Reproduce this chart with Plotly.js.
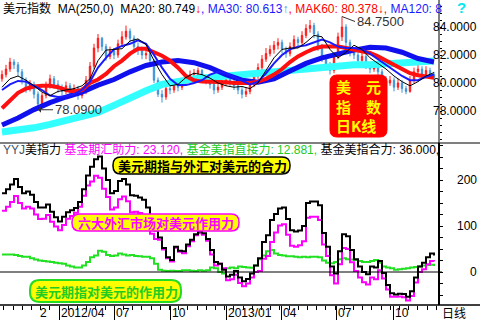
<!DOCTYPE html>
<html><head><meta charset="utf-8">
<script src="https://cdn.plot.ly/plotly-3.0.1.min.js"></script>
<style>html,body{margin:0;padding:0;background:#fff;}#chart{width:480px;height:320px;}</style>
</head><body><div id="chart"></div>
<script>
// ---- data (bar number = ~1 week of trading, left to right) ----
const bars = [0,1,2,3,4,5,6,7,8,9,10,11,12,13,14,15,16,17,18,19,20,21,22,23,24,25,26,27,28,29,30,31,32,33,34,35,36,37,38,39,40,41,42,43,44,45,46,47,48,49,50,51,52,53,54,55,56,57,58,59,60,61,62,63,64,65,66,67,68,69,70,71,72,73,74,75,76,77,78,79,80,81,82,83,84,85,86,87,88,89,90,91,92,93,94,95,96,97,98,99,100,101,102,103,104,105,106,107,108];
const openP = [80.3,80.6,81.0,81.5,81.3,80.8,80.2,79.6,79.9,79.2, 78.5,79.1,79.8,80.3,79.9,79.6,79.4,79.8,79.3,79.6, 79.1,79.4,80.2,81.2,82.5,83.2,82.6,81.9,82.3,82.0, 82.8,83.3,83.7,83.2,82.6,82.3,82.0,82.1,81.6,80.2, 79.2,79.0,79.6,79.5,79.9,79.7,80.0,80.3,80.6,80.7, 80.9,80.4,80.2,79.9,79.5,79.7,80.0,80.4,80.1,79.8, 79.5,79.2,79.4,79.9,80.5,81.1,81.7,82.1,82.4,82.7, 82.9,82.4,82.1,82.6,83.1,82.9,83.4,83.9,84.1,83.5, 82.6,81.8,81.2,80.9,81.9,83.3,84.0,82.9,82.2,82.0, 81.6,81.9,81.3,81.0,81.2,80.8,80.3,80.0,80.2,79.7, 80.0,79.6,79.4,80.2,80.8,81.0,80.6,80.9,80.6];
const highP = [80.9,81.3,81.8,81.7,81.5,81.0,80.4,80.2,80.1,79.4, 79.3,80.1,80.6,80.5,80.2,79.9,80.1,80.0,79.9,79.8, 79.7,80.5,81.5,82.8,83.5,83.3,82.8,82.6,82.5,83.1, 83.7,84.1,83.9,83.4,82.9,82.6,82.5,82.3,81.7,80.4, 79.5,79.9,79.9,80.2,80.1,80.3,80.6,80.9,81.0,81.1, 81.0,80.6,80.4,80.1,80.0,80.3,80.7,80.6,80.3,80.0, 79.7,79.7,80.2,80.8,81.4,82.0,82.5,82.7,83.0,83.2, 83.1,82.6,82.9,83.4,83.3,83.7,84.2,84.5,84.3,83.7, 82.8,82.0,81.5,82.2,83.6,84.75,84.2,83.1,82.5,82.2, 82.2,82.1,81.5,81.5,81.4,81.0,80.5,80.5,80.4,80.3, 80.2,79.8,80.5,81.1,81.4,81.2,81.2,81.1,80.8];
const lowP = [80.1,80.4,80.8,81.0,80.5,79.9,79.3,79.4,78.9,78.09, 78.3,78.9,79.6,79.6,79.3,79.1,79.2,79.0,79.1,78.8, 78.9,79.2,80.0,81.0,82.2,82.3,81.6,81.7,81.7,81.8, 82.6,83.1,82.9,82.3,82.0,81.7,81.7,81.3,80.0,79.0, 78.6,78.8,79.2,79.3,79.4,79.5,79.8,80.1,80.3,80.5, 80.1,79.9,79.6,79.2,79.3,79.5,79.8,79.8,79.5,79.2, 78.9,79.0,79.2,79.7,80.3,80.9,81.5,81.9,82.1,82.4, 82.1,81.8,81.9,82.4,82.6,82.7,83.2,83.6,83.2,82.3, 81.5,80.9,80.6,80.7,81.7,83.0,82.6,81.9,81.7,81.3, 81.4,81.0,80.7,80.8,80.5,80.0,79.7,79.8,79.4,79.5, 79.3,79.2,79.3,80.0,80.6,80.3,80.4,80.3,80.2];
const closeP = [80.6,81.0,81.5,81.3,80.8,80.2,79.6,79.9,79.2,78.5, 79.1,79.8,80.3,79.9,79.6,79.4,79.8,79.3,79.6,79.1, 79.4,80.2,81.2,82.5,83.2,82.6,81.9,82.3,82.0,82.8, 83.3,83.7,83.2,82.6,82.3,82.0,82.1,81.6,80.2,79.2, 79.0,79.6,79.5,79.9,79.7,80.0,80.3,80.6,80.7,80.9, 80.4,80.2,79.9,79.5,79.7,80.0,80.4,80.1,79.8,79.5, 79.2,79.4,79.9,80.5,81.1,81.7,82.1,82.4,82.7,82.9, 82.4,82.1,82.6,83.1,82.9,83.4,83.9,84.1,83.5,82.6, 81.8,81.2,80.9,81.9,83.3,84.0,82.9,82.2,82.0,81.6, 81.9,81.3,81.0,81.2,80.8,80.3,80.0,80.2,79.7,80.0, 79.6,79.4,80.2,80.8,81.0,80.6,80.9,80.6,80.4];

const fastBars = [0,2,4,6,8,10,12,14,16,18,20,22,24,26,28,30,32,34,36,38,40,42,44,46,48,50,52,54,56,58,60,62,64,66,68,70,72,74,76,78,80,82,84,86,88,90,92,94,96,98,100,102,104,106,108];
const ma20 = [79.7,80.3,80.5,80.2,79.8,79.35,79.1,79.4,79.5,79.6, 79.8,80.3,81.6,82.35,82.4,82.45,83.0,83.15,82.75,81.6, 80.6,79.8,79.9,80.4,80.7,80.6,80.35,80.0,79.8,79.7, 79.75,79.6,80.0,80.9,81.8,82.4,82.5,82.5,82.9,83.4, 83.3,82.4,81.8,82.2,82.7,82.4,81.8,81.4,81.0,80.5, 80.1,79.8,80.1,80.5,80.75];
const ma30 = [79.5,79.9,80.15,80.1,79.8,79.5,79.1,79.0,79.05,79.2, 79.5,80.1,81.1,81.8,82.4,82.65,82.8,83.05,82.8,82.0, 81.1,80.3,79.85,79.85,80.0,80.2,80.6,80.8,80.7,80.45, 80.2,79.9,80.1,80.7,81.4,82.0,82.4,82.6,82.7,82.9, 83.1,82.9,82.6,82.5,82.5,82.4,82.1,81.7,81.3,80.9, 80.5,80.2,80.2,80.45,80.61];
const mak60 = [78.2,78.8,79.3,79.6,79.75,79.8,79.8,79.7,79.5,79.4, 79.5,80.0,80.25,80.65,81.2,81.6,82.1,82.45,82.45,82.2, 81.95,81.6,81.1,80.5,80.2,80.1,80.1,80.1,80.05,80.0, 80.0,80.0,80.1,80.3,80.6,81.0,81.5,81.9,82.2,82.45, 82.6,82.6,82.6,82.5,82.4,82.3,82.15,81.9,81.6,81.25, 80.95,80.7,80.55,80.45,80.38];
const slowBars = [0,4,8,12,16,20,24,28,32,36,40,44,48,52,56,60,64,68,72,76,80,84,88,92,96,100,104,108];
const ma120 = [77.0,77.5,78.1,78.6,79.0,79.35,79.85,80.25,80.8,81.25,81.5,81.6,81.45,81.1,80.6,80.2,80.05,80.3,80.85,81.4,81.8,82.1,82.35,82.55,82.5,82.2,81.75,81.5];
const ma250 = [76.5,76.6,76.8,77.05,77.3,77.6,77.9,78.4,78.95,79.45,79.9,80.15,80.3,80.4,80.5,80.6,80.7,80.85,80.95,81.05,81.15,81.2,81.3,81.3,81.35,81.45,81.5,81.57];

// lower panel: fund forces
const heli = [171,180,190,202,185,171,175,168,152,140, 140,147,131,119,110,120,130,134,139,152, 180,210,229,245,251,225,200,171,176,198, 202,190,167,166,162,157,140,113,90,75, 52,32,26,55,46,45,60,70,82,88, 84,72,48,22,18,5,-10,-6,2,-12, -20,-15,-3,14,30,65,80,113,126,138, 140,115,91,88,90,100,150,153,153,145, 85,55,12,-3,45,82,78,48,28,12, 0,-5,12,10,24,-2,-28,-46,-49,-47, -48,-54,-42,-12,12,20,32,40,36];
const zhijie = [38,38,38,37,35,33,33,30,27,25, 24,23,22,20,19,18,14,12,10,10, 14,22,32,36,46,44,37,35,36,40, 38,36,37,35,34,33,33,30,18,5, 3,2,3,2,2,4,4,3,2,4, 3,4,10,8,0,-3,8,10,8,12, 11,10,9,14,28,36,45,48,40,37, 36,34,34,33,32,33,32,33,33,32, 25,20,19,22,28,30,28,27,26,24, 22,22,24,26,20,12,10,8,5,6, 7,8,10,11,12,14,15,16,13];
const qihui = [133,142,152,165,150,138,142,138,125,115, 116,124,109,99,91,102,116,122,129,142, 166,188,197,209,205,181,163,136,140,158, 164,154,130,131,128,124,107,83,72,70, 49,30,23,53,44,41,56,67,80,84, 81,68,38,14,18,8,-18,-16,-6,-24, -31,-25,-12,0,2,29,35,65,86,101, 104,81,57,55,58,67,118,120,120,113, 60,35,-7,-25,17,52,50,21,2,-12, -22,-27,-12,-16,4,-14,-38,-54,-54,-53, -55,-62,-52,-23,0,6,17,24,23];

const xTickBars = [14.25,28,42,56,69.75,83.5,97.75];
const xTickLabels = ['2012/04','07','10','2013/01','04','07','10'];
const yTopTicks = [84,82,80,78];
const yLowTicks = [200,100,0];

// ---- layout helpers (pixels -> paper) ----
const PW = 439, PH = 305;
const X = px => px / PW;
const Y = py => (PH - py) / PH;
const FONT = 'Liberation Sans, Arial, Noto Sans CJK SC, sans-serif';
const CJK = 'Noto Sans CJK SC';
function rr(x0,y0,x1,y1,r){
  return `M${X(x0+r)},${Y(y0)} L${X(x1-r)},${Y(y0)} Q${X(x1)},${Y(y0)} ${X(x1)},${Y(y0+r)} L${X(x1)},${Y(y1-r)} Q${X(x1)},${Y(y1)} ${X(x1-r)},${Y(y1)} L${X(x0+r)},${Y(y1)} Q${X(x0)},${Y(y1)} ${X(x0)},${Y(y1-r)} L${X(x0)},${Y(y0+r)} Q${X(x0)},${Y(y0)} ${X(x0+r)},${Y(y0)} Z`;
}

const traces = [
  {type:'candlestick', x:bars, open:openP, high:highP, low:lowP, close:closeP, xaxis:'x', yaxis:'y',
   increasing:{line:{color:'#ff1a1a',width:1}, fillcolor:'#ff1a1a'},
   decreasing:{line:{color:'#3f93d8',width:1}, fillcolor:'#3f93d8'}, whiskerwidth:0, hoverinfo:'skip'},
  {type:'scatter', mode:'lines', x:slowBars, y:ma250, line:{color:'#33ffff', width:7}, xaxis:'x', yaxis:'y'},
  {type:'scatter', mode:'lines', x:slowBars, y:ma120, line:{color:'#1010ee', width:5}, xaxis:'x', yaxis:'y'},
  {type:'scatter', mode:'lines', x:fastBars, y:mak60, line:{color:'#ff1010', width:4}, xaxis:'x', yaxis:'y'},
  {type:'scatter', mode:'lines', x:fastBars, y:ma30, line:{color:'#1a1aff', width:2}, xaxis:'x', yaxis:'y'},
  {type:'scatter', mode:'lines', x:fastBars, y:ma20, line:{color:'#000000', width:1}, xaxis:'x', yaxis:'y'},
  {type:'scatter', mode:'lines', x:bars, y:zhijie, line:{color:'#22e022', width:2, shape:'hv'}, xaxis:'x', yaxis:'y2'},
  {type:'scatter', mode:'lines', x:bars, y:qihui, line:{color:'#ff00ff', width:2, shape:'hv'}, xaxis:'x', yaxis:'y2'},
  {type:'scatter', mode:'lines', x:bars, y:heli, line:{color:'#000000', width:2, shape:'hv'}, xaxis:'x', yaxis:'y2'}
];

const annotations = [];
const A = o => annotations.push(Object.assign({showarrow:false, font:{family:FONT, size:12, color:'#000'}}, o));

A({xref:'paper', yref:'paper', x:X(1), y:Y(8), xanchor:'left', yanchor:'middle',
   text:'美元指数&nbsp;&nbsp;MA(250,0)&nbsp;&nbsp;MA20: 80.749<span style="color:#ff0000">↓</span><span style="color:#1a1aff">, MA30: 80.613</span><span style="color:#3f93d8">↑</span><span style="color:#ff0000">, MAK60: 80.378↓,</span><span style="color:#1a1aff"> MA120: 8</span>'});
A({xref:'paper', yref:'paper', x:X(455), y:Y(7), xanchor:'left', yanchor:'middle', text:'?', font:{family:FONT, size:15, color:'#00e8f0', weight:'bold'}});
A({xref:'paper', yref:'paper', x:X(1), y:Y(149), xanchor:'left', yanchor:'middle',
   text:'<span style="color:#445566">YYJ</span>美指力 <span style="color:#ff00ff">基金期汇助力: 23.120,</span> <span style="color:#22cc22">基金美指直接力: 12.881,</span> 基金美指合力: 36.000,'});
yTopTicks.forEach(v => A({xref:'paper', yref:'y', x:X(479), y:v, xanchor:'right', yanchor:'middle', text:v.toFixed(4)}));
yLowTicks.forEach(v => A({xref:'paper', yref:'y2', x:X(479), y:v, xanchor:'right', yanchor:'middle', text:String(v)}));
xTickBars.forEach((b,i) => A({xref:'x', yref:'paper', x:b, y:Y(313), xanchor:'left', yanchor:'middle', text:xTickLabels[i]}));
A({xref:'x', yref:'paper', x:9.0, y:Y(313), xanchor:'left', yanchor:'middle', text:'2'});
A({xref:'paper', yref:'paper', x:X(440), y:Y(313), xanchor:'left', yanchor:'middle', text:'日线', font:{family:CJK, size:12, color:'#000'}});
// extreme marks
A({xref:'x', yref:'y', x:85, y:84.75, ax:13, ay:5, xanchor:'left', yanchor:'middle', showarrow:true, arrowhead:0, arrowwidth:1, arrowcolor:'#333', text:'84.7500', font:{family:FONT, size:13, color:'#333'}});
A({xref:'x', yref:'y', x:9, y:78.09, ax:15, ay:0, xanchor:'left', yanchor:'middle', showarrow:true, arrowhead:1, arrowsize:1, arrowwidth:1, arrowcolor:'#333', text:'78.0900', font:{family:FONT, size:13, color:'#333'}});
// label boxes (left-anchored text)
A({xref:'paper', yref:'paper', x:X(116), y:Y(165.5), xanchor:'left', yanchor:'middle', text:'美元期指与外汇对美元的合力', font:{family:CJK, size:13, color:'#000', weight:'bold'}});
A({xref:'paper', yref:'paper', x:X(76), y:Y(222.5), xanchor:'left', yanchor:'middle', text:'六大外汇市场对美元作用力', font:{family:CJK, size:13, color:'#ff00ff', weight:'bold'}});
A({xref:'paper', yref:'paper', x:X(33), y:Y(291), xanchor:'left', yanchor:'middle', text:'美元期指对美元的作用力', font:{family:CJK, size:13, color:'#22cc22', weight:'bold'}});
A({xref:'paper', yref:'paper', x:X(334), y:Y(106), xanchor:'left', yanchor:'middle', align:'left', text:'美　元<br>指　数<br>日K线', font:{family:CJK, size:15, color:'#ffff00', weight:'bold'}});

const shapes = [
  {type:'line', xref:'paper', yref:'paper', x0:X(439), x1:X(439), y0:Y(0), y1:Y(143), line:{color:'#000', width:1}},
  {type:'line', xref:'paper', yref:'paper', x0:X(439), x1:X(439), y0:Y(143), y1:Y(305), line:{color:'#000', width:2}},
  {type:'line', xref:'paper', yref:'paper', x0:0, x1:X(480), y0:Y(143), y1:Y(143), line:{color:'#000', width:1}},
  {type:'line', xref:'paper', yref:'paper', x0:0, x1:X(480), y0:Y(305), y1:Y(305), line:{color:'#000', width:1.5}},
  {type:'line', xref:'paper', yref:'y2', x0:0, x1:X(442), y0:0, y1:0, line:{color:'#000', width:1}},
  {type:'path', xref:'paper', yref:'paper', path:rr(113,157,290,174,8), fillcolor:'#ffff00', line:{color:'#000', width:1.5}},
  {type:'path', xref:'paper', yref:'paper', path:rr(72,214,239,231,8), fillcolor:'#ffff00', line:{color:'#ff00ff', width:1.5}},
  {type:'path', xref:'paper', yref:'paper', path:rr(30,280,181,302,10), fillcolor:'#ffff00', line:{color:'#22dd22', width:2}},
  {type:'path', xref:'paper', yref:'paper', path:rr(330,75,387,137,7), fillcolor:'#ff0000', line:{color:'#ff0000', width:1}}
];

const layout = {
  width:480, height:320, margin:{l:0, r:41, t:0, b:15, pad:0},
  paper_bgcolor:'#ffffff', plot_bgcolor:'#ffffff', showlegend:false, boxgap:0.5,
  xaxis:{domain:[0,1], range:[-0.5,109.25], anchor:'y2', showgrid:false, zeroline:false, showline:false,
    tickmode:'array', tickvals:xTickBars, showticklabels:false, ticks:'outside', ticklen:14, tickwidth:1, tickcolor:'#000',
    minor:{ticks:'outside', ticklen:4, tickwidth:1, tickcolor:'#000', tickmode:'linear', tick0:14.25, dtick:2.3, showgrid:false},
    rangeslider:{visible:false}, fixedrange:true},
  yaxis:{domain:[0.5311,1], range:[75.714,85.93], side:'right', anchor:'x', showgrid:false, zeroline:false, showline:false,
    ticks:'outside', ticklen:2, tickwidth:1, tickcolor:'#000', tickmode:'linear', tick0:0, dtick:0.5, showticklabels:false},
  yaxis2:{domain:[0,0.5311], range:[-71.7,280.4], side:'right', anchor:'x', showgrid:false, zeroline:false, showline:false,
    ticks:'outside', ticklen:3, tickwidth:1, tickcolor:'#000', tickmode:'linear', tick0:0, dtick:25, showticklabels:false},
  annotations, shapes
};
const draw = () => Plotly.newPlot('chart', traces, layout, {staticPlot:true, displayModeBar:false});
draw();
if (document.fonts && document.fonts.ready) {
  Promise.all([
    document.fonts.load('bold 13px "Noto Sans CJK SC"'),
    document.fonts.load('13px "Noto Sans CJK SC"'),
    document.fonts.load('12px "Liberation Sans"')
  ]).then(draw, draw);
}
</script></body></html>
